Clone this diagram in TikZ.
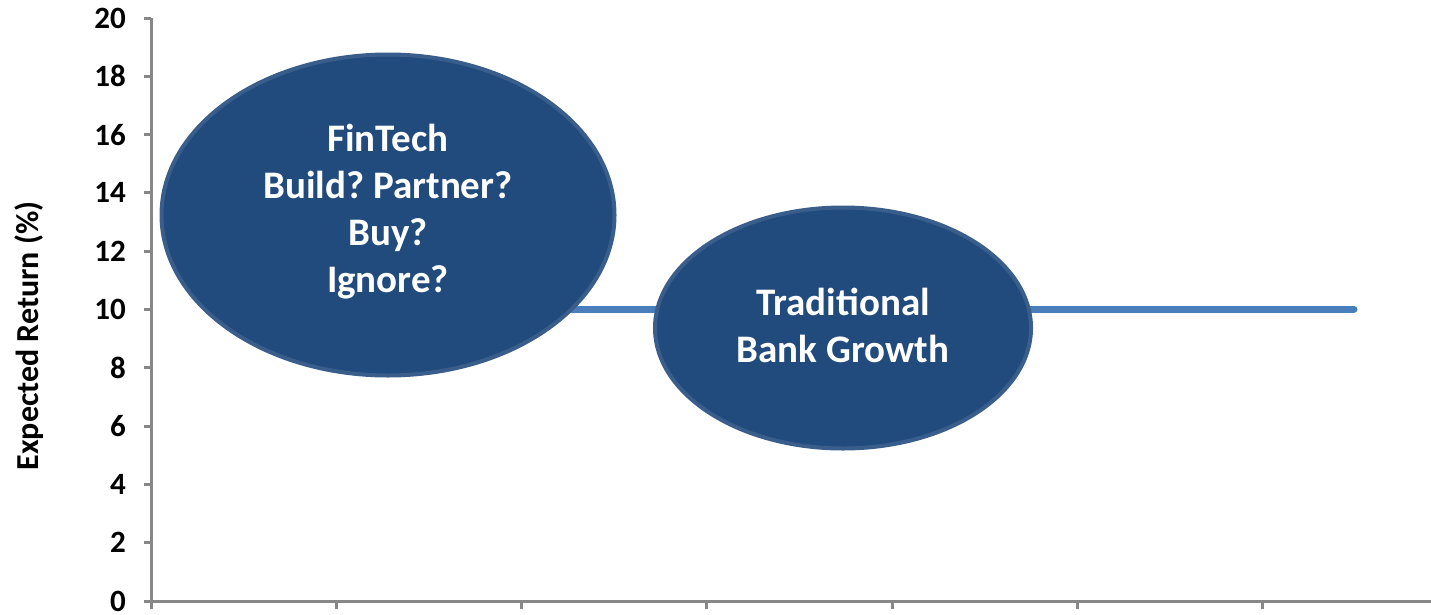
\documentclass[tikz,border=0pt]{standalone}
\usepackage{fontspec}
\setmainfont{Carlito}
\usetikzlibrary{shapes.geometric}
\frenchspacing
\definecolor{bubblefill}{RGB}{33,74,125}
\definecolor{bubbleedge}{RGB}{58,94,139}
\definecolor{trendline}{RGB}{74,126,187}
\definecolor{axisgray}{RGB}{135,135,135}
\tikzset{
  axisline/.style={draw=axisgray, line width=3pt},
  ticklabel/.style={font=\fontsize{31}{35}\selectfont\bfseries, anchor=east, inner sep=0pt},
  bubble/.style={ellipse, fill=bubblefill, draw=bubbleedge, line width=4pt, inner sep=0pt},
  bubbletext/.style={text=white, align=center, inner sep=0pt, yshift=3pt,
    font=\fontsize{39}{47}\selectfont\bfseries},
  trend/.style={draw=trendline, line width=7pt, line cap=round},
}
\begin{document}
\begin{tikzpicture}[x=1pt, y=-1pt]
\useasboundingbox (0,0) rectangle (1431,614);

% axes
\coordinate (origin) at (151,601);
\coordinate (ytop) at (151,18);
\coordinate (xend) at (1431,601);
\draw[axisline] (ytop) -- (origin) -- (xend);

% y ticks and labels
\foreach \v [count=\i from 0] in {0,2,...,20} {
  \coordinate (yt\i) at (151,{601-58.3*\i});
  \draw[axisline] (yt\i) -- ++(-7,0);
  \node[ticklabel] (yl\i) at (126,{601-58.3*\i}) {\v};
}

% x ticks
\foreach \i in {0,...,6} {
  \coordinate (xt\i) at ({151+185.3*\i},601);
  \draw[axisline] (xt\i) -- ++(0,8);
}

% axis title
\node[rotate=90, font=\fontsize{32}{36}\selectfont\bfseries, inner sep=0pt] (ytitle) at (29,336) {Expected Return (\%)};

% trend line at 10 %
\coordinate (tstart) at (388,309);
\coordinate (tend) at (1354,309);
\draw[trend] (tstart) -- (tend);

% bubbles
\node[bubble, minimum width=453pt, minimum height=321pt,
  label={[bubbletext]center:{FinTech\\Build? Partner?\\Buy?\\Ignore?}}] (fintech) at (388,215) {};
\node[bubble, minimum width=376pt, minimum height=241pt,
  label={[bubbletext]center:{Traditional\\Bank Growth}}] (bank) at (843,328) {};
\end{tikzpicture}
\end{document}
